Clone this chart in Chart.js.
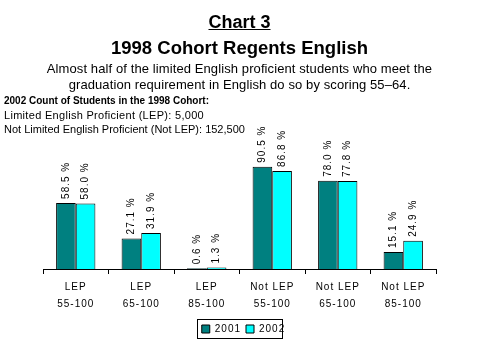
<!DOCTYPE html>
<html>
<head>
<meta charset="utf-8">
<script src="https://cdn.jsdelivr.net/npm/chart.js@4.4.0/dist/chart.umd.min.js"></script>
<style>
  body { margin: 0; background: #fff; font-family: Arial, "Liberation Sans", sans-serif; }
  #wrap { position: relative; width: 479px; height: 359px; overflow: hidden; }
  #c { position: absolute; left: 0; top: 0; }
  .t { position: absolute; left: 0; width: 479px; text-align: center; color: #000; white-space: nowrap; }
  .l { position: absolute; left: 4px; color: #000; white-space: nowrap; font-size: 11px; }
</style>
</head>
<body>
<div id="wrap">
  <canvas id="c" width="479" height="359"></canvas>
  <div class="t" style="top:12px;font-size:18px;font-weight:bold;"><u>Chart 3</u></div>
  <div class="t" style="top:37px;font-size:18.5px;font-weight:bold;">1998 Cohort Regents English</div>
  <div class="t" style="top:61px;font-size:13px;line-height:16px;letter-spacing:0.1px;">Almost half of the limited English proficient students who meet the<br>graduation requirement in English do so by scoring 55&ndash;64.</div>
  <div class="l" style="top:95px;font-weight:bold;font-size:10px;">2002 Count of Students in the 1998 Cohort:</div>
  <div class="l" style="top:109px;letter-spacing:0.3px;">Limited English Proficient (LEP): 5,000</div>
  <div class="l" style="top:123px;">Not Limited English Proficient (Not LEP): 152,500</div>
</div>
<script>
// data
const groups = [['LEP', '55-100'], ['LEP', '65-100'], ['LEP', '85-100'],
                ['Not LEP', '55-100'], ['Not LEP', '65-100'], ['Not LEP', '85-100']];
const years = ['2001', '2002'];
const pct2001 = [58.5, 27.1, 0.6, 90.5, 78.0, 15.1];
const pct2002 = [58.0, 31.9, 1.3, 86.8, 77.8, 24.9];

// spread letters a little, like the old chart
const spacing = {
  id: 'spacing',
  beforeDraw(chart) { chart.ctx.letterSpacing = '1px'; }
};

// rotated value labels above bars
const barLabels = {
  id: 'barLabels',
  afterDatasetsDraw(chart) {
    const ctx = chart.ctx;
    ctx.save();
    ctx.font = '10px Arial, "Liberation Sans", sans-serif';
    ctx.fillStyle = '#000';
    ctx.textAlign = 'left';
    ctx.textBaseline = 'middle';
    chart.data.datasets.forEach((ds, i) => {
      chart.getDatasetMeta(i).data.forEach((bar, j) => {
        ctx.save();
        ctx.translate(bar.x, bar.y - 4);
        ctx.rotate(-Math.PI / 2);
        ctx.fillText(ds.data[j].toFixed(1) + ' %', 0, 0);
        ctx.restore();
      });
    });
    ctx.restore();
  }
};

// frame round the legend
const legendBox = {
  id: 'legendBox',
  afterDraw(chart) {
    const lg = chart.legend;
    const ctx = chart.ctx;
    let w = 0;
    lg.legendHitBoxes.forEach(b => { w = Math.max(w, b.left + b.width); });
    const x0 = lg.legendHitBoxes[0].left - 5;
    ctx.save();
    ctx.strokeStyle = '#000';
    ctx.lineWidth = 1;
    ctx.strokeRect(Math.round(x0) + 0.5, 319.5, Math.round(w - x0 + 5), 19);
    ctx.restore();
  }
};

new Chart(document.getElementById('c'), {
  type: 'bar',
  data: {
    labels: groups,
    datasets: [
      { label: years[0], data: pct2001, backgroundColor: '#008080', borderColor: '#000', borderWidth: 1 },
      { label: years[1], data: pct2002, backgroundColor: '#00ffff', borderColor: '#000', borderWidth: 1 }
    ]
  },
  options: {
    responsive: false,
    animation: false,
    layout: { padding: { top: 156, left: 43, right: 43, bottom: 15 } },
    categoryPercentage: 0.6,
    barPercentage: 1.0,
    plugins: {
      legend: {
        position: 'bottom',
        labels: {
          color: '#000',
          font: { size: 10, family: 'Arial, "Liberation Sans", sans-serif' },
          boxWidth: 8, boxHeight: 8, padding: 5,
          generateLabels(chart) {
            return chart.data.datasets.map((ds, i) => ({
              text: ds.label, fillStyle: ds.backgroundColor, strokeStyle: '#000',
              lineWidth: 1, datasetIndex: i, fontColor: '#000'
            }));
          }
        }
      },
      tooltip: { enabled: false }
    },
    scales: {
      y: { display: false, min: 0, max: 100 },
      x: {
        afterFit(scale) { scale.height = 50; },
        border: { display: true, color: '#000', width: 1 },
        grid: { display: true, drawOnChartArea: false, color: '#000', tickLength: 5, offset: true },
        ticks: {
          color: '#000', padding: 5,
          font: { size: 10, family: 'Arial, "Liberation Sans", sans-serif', lineHeight: 1.7 }
        }
      }
    }
  },
  plugins: [spacing, barLabels, legendBox]
});
</script>
</body>
</html>
